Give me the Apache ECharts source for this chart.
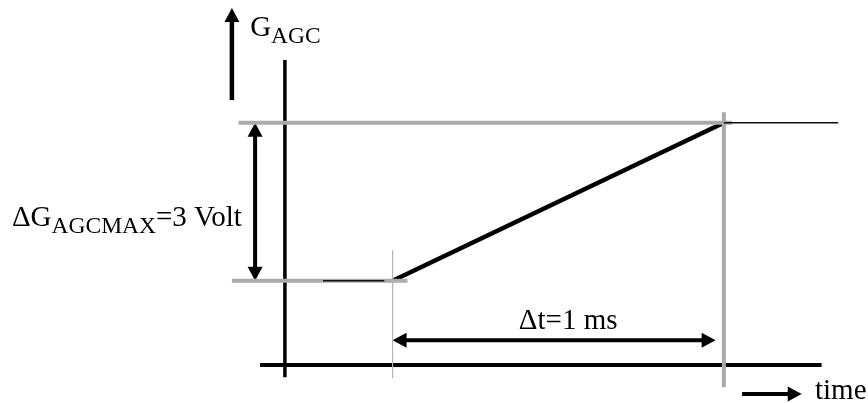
<!DOCTYPE html>
<html><head><meta charset="utf-8">
<script src="https://cdn.jsdelivr.net/npm/echarts@6/dist/echarts.min.js"></script>
<style>html,body{margin:0;padding:0;background:#fff}#c{width:868px;height:403px}</style>
</head><body><div id="c"></div><script>
// Units: time in ms (t = 0 on the G axis), gain G_AGC in volts (G = 0 on the time axis)
const rampTime = [0.325, 1.325];        // ramp start / end  (Δt = 1 ms)
const rampGain = [1.6, 4.6];            // low / high level  (ΔG = 3 V)
const gAxisGain = [-0.23, 5.79];        // extent of the G axis
const timeAxisTime = [-0.075, 1.62];    // extent of the time axis
const lowGuideTime = [-0.16, 0.37];     // grey guide at the low level
const highGuideTime = [-0.14, 1.35];    // grey guide at the high level
const lowLevelTime = [0.115, 0.30];     // thin black low level
const highLevelTime = [1.325, 1.67];    // thin black high level
const startMarkGain = [-0.25, 2.18];    // thin grey marker at ramp start
const endMarkGain = [-0.42, 4.8];       // thick grey marker at ramp end
const deltaGArrowTime = [-0.09];
const deltaTArrowGain = [0.47];
const deltaTArrowTime = [0.325, 1.30];
const gArrowTime = [-0.16];
const gArrowGain = [5.03, 6.78];
const timeArrowGain = [-0.55];
const timeArrowTime = [1.38, 1.56];
const labelTexts = ['{m|G}{s|AGC}', '{m|ΔG}{s|AGCMAX}{m|=3 Volt}', '{m|Δt=1 ms}', '{m|time}'];
const labelTime = [-0.105, -0.824, 0.855, 1.60];
const labelGain = [6.39, 2.78, 0.83, -0.50];

const BLACK = '#000', GREY = '#ababab';
const shapes = [];
// black lines
shapes.push({kind:'line', a:[0, gAxisGain[0]], b:[0, gAxisGain[1]], color:BLACK, width:3.5});
shapes.push({kind:'line', a:[timeAxisTime[0], 0], b:[timeAxisTime[1], 0], color:BLACK, width:4});
shapes.push({kind:'line', a:[rampTime[0], rampGain[0]], b:[rampTime[1], rampGain[1]], color:BLACK, width:4.5});
// arrows
shapes.push({kind:'arrow', a:[deltaGArrowTime[0], rampGain[0]], b:[deltaGArrowTime[0], rampGain[1]], both:true, width:4});
shapes.push({kind:'arrow', a:[deltaTArrowTime[0], deltaTArrowGain[0]], b:[deltaTArrowTime[1], deltaTArrowGain[0]], both:true, width:4});
shapes.push({kind:'arrow', a:[gArrowTime[0], gArrowGain[0]], b:[gArrowTime[0], gArrowGain[1]], both:false, width:4.5});
shapes.push({kind:'arrow', a:[timeArrowTime[0], timeArrowGain[0]], b:[timeArrowTime[1], timeArrowGain[0]], both:false, width:4});
// grey guides (drawn on top of the black axes)
shapes.push({kind:'line', a:[lowGuideTime[0], rampGain[0]], b:[lowGuideTime[1], rampGain[0]], color:GREY, width:4});
shapes.push({kind:'line', a:[highGuideTime[0], rampGain[1]], b:[highGuideTime[1], rampGain[1]], color:GREY, width:4});
shapes.push({kind:'line', a:[rampTime[0], startMarkGain[0]], b:[rampTime[0], startMarkGain[1]], color:'#b5b5b5', width:1.2});
shapes.push({kind:'line', a:[rampTime[1], endMarkGain[0]], b:[rampTime[1], endMarkGain[1]], color:GREY, width:4});
// thin black levels, on top of the grey guides
shapes.push({kind:'line', a:[lowLevelTime[0], rampGain[0]], b:[lowLevelTime[1], rampGain[0]], color:'#111', width:1.5});
shapes.push({kind:'line', a:[highLevelTime[0], rampGain[1]], b:[highLevelTime[1], rampGain[1]], color:'#111', width:1.5});
// labels
labelTexts.forEach((t, i) => shapes.push({kind:'text', text:t, a:[labelTime[i], labelGain[i]], align: i === 2 ? 'center' : 'left'}));

const FONT = '"Liberation Serif", "Times New Roman", serif';
const HEAD_L = 14, HEAD_W = 15;

function renderItem(params, api) {
  const s = shapes[params.dataIndex];
  const p1 = api.coord(s.a);
  if (s.kind === 'text') {
    return {type:'text', x:p1[0], y:p1[1], style:{
      text:s.text, fill:'#000', align:s.align, verticalAlign:'middle',
      rich:{
        m:{fontFamily:FONT, fontSize:29, lineHeight:44, fill:'#000'},
        s:{fontFamily:FONT, fontSize:23.5, padding:[17,0,0,0], fill:'#000'}
      }}};
  }
  const p2 = api.coord(s.b);
  if (s.kind === 'line') {
    return {type:'line', shape:{x1:p1[0], y1:p1[1], x2:p2[0], y2:p2[1]},
      style:{stroke:s.color, lineWidth:s.width, lineCap:'butt'}};
  }
  const dx = p2[0]-p1[0], dy = p2[1]-p1[1], len = Math.hypot(dx, dy);
  const ux = dx/len, uy = dy/len, nx = -uy, ny = ux;
  const head = (tip, sx, sy) => ({type:'polygon', shape:{points:[
      [tip[0], tip[1]],
      [tip[0]-sx*HEAD_L + nx*HEAD_W/2, tip[1]-sy*HEAD_L + ny*HEAD_W/2],
      [tip[0]-sx*HEAD_L - nx*HEAD_W/2, tip[1]-sy*HEAD_L - ny*HEAD_W/2]]},
      style:{fill:'#000', stroke:null}});
  const children = [];
  let s1 = p1;
  if (s.both) { children.push(head(p1, -ux, -uy)); s1 = [p1[0]+ux*HEAD_L*0.6, p1[1]+uy*HEAD_L*0.6]; }
  children.push(head(p2, ux, uy));
  const s2 = [p2[0]-ux*HEAD_L*0.6, p2[1]-uy*HEAD_L*0.6];
  children.push({type:'line', shape:{x1:s1[0], y1:s1[1], x2:s2[0], y2:s2[1]}, style:{stroke:'#000', lineWidth:s.width, lineCap:'butt'}});
  return {type:'group', children};
}

const chart = echarts.init(document.getElementById('c'), null, {renderer:'canvas'});
chart.setOption({
  animation:false,
  backgroundColor:'#fff',
  grid:{left:0, right:0, top:0, bottom:0, containLabel:false},
  xAxis:{type:'value', min:-0.86, max:1.76, show:false},
  yAxis:{type:'value', min:-0.72, max:6.93, show:false},
  series:[{type:'custom', coordinateSystem:'cartesian2d', clip:false, silent:true,
    renderItem, data: shapes.map((_, i) => [0, 0, i])}]
});
</script></body></html>
